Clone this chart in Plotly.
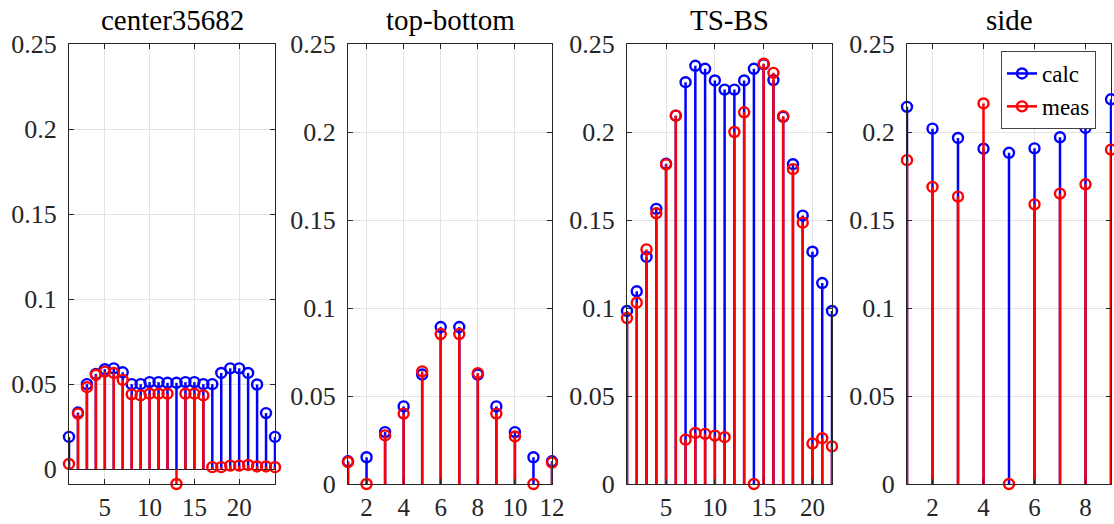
import plotly.graph_objects as go

# ---- data -------------------------------------------------------------
titles = ["center35682", "top-bottom", "TS-BS", "side"]

center_calc = [0.019, 0.0333, 0.050, 0.056, 0.0588, 0.0593, 0.057, 0.050, 0.050, 0.0512,
               0.0512, 0.0508, 0.0508, 0.0512, 0.0512, 0.050, 0.050, 0.0566, 0.0593, 0.0593,
               0.0566, 0.0498, 0.033, 0.019]
center_meas = [0.0031, 0.0327, 0.0482, 0.0555, 0.0574, 0.0566, 0.0525, 0.044, 0.0434, 0.0444,
               0.0444, 0.0444, -0.0087, 0.0444, 0.0444, 0.0434, 0.0012, 0.0012, 0.0021, 0.0021,
               0.0025, 0.0016, 0.0016, 0.0012]

tb_calc = [0.0129, 0.0152, 0.0295, 0.0441, 0.0622, 0.0892, 0.0892, 0.0622, 0.0441, 0.0295,
           0.0152, 0.0129]
tb_meas = [0.0125, 0.0, 0.0276, 0.040, 0.064, 0.0852, 0.0852, 0.063, 0.040, 0.027,
           0.0, 0.0122]

tsbs_calc = [0.0983, 0.1095, 0.129, 0.1563, 0.182, 0.2093, 0.2283, 0.2376, 0.2359, 0.2293,
             0.2241, 0.2241, 0.2293, 0.2359, 0.2384, 0.2295, 0.2086, 0.1817, 0.1525, 0.132,
             0.1142, 0.0983]
tsbs_meas = [0.0943, 0.103, 0.1333, 0.1538, 0.1816, 0.2093, 0.0252, 0.029, 0.0285, 0.0275,
             0.0266, 0.200, 0.2112, 0.0, 0.2388, 0.2336, 0.209, 0.1789, 0.1485, 0.023,
             0.026, 0.0214]

side_calc = [0.2143, 0.2019, 0.1966, 0.1905, 0.1882, 0.1907, 0.197, 0.2023, 0.2186]
side_meas = [0.184, 0.1688, 0.1633, 0.2162, 0.0, 0.1589, 0.165, 0.1703, 0.190]

calc_sets = [center_calc, tb_calc, tsbs_calc, side_calc]
meas_sets = [center_meas, tb_meas, tsbs_meas, side_meas]

x_ticks = [[5, 10, 15, 20], [2, 4, 6, 8, 10, 12], [5, 10, 15, 20], [2, 4, 6, 8]]
y_ticks = [0, 0.05, 0.1, 0.15, 0.2, 0.25]
y_tick_text = ["0", "0.05", "0.1", "0.15", "0.2", "0.25"]

series_names = ["calc", "meas"]
series_colors = ["#0000FF", "#FF0000"]

# ---- layout geometry (pixels) -------------------------------------------
W, H = 1114, 524
panel_px = [(69, 275), (348, 552), (627, 832), (907, 1111)]
plot_top, plot_bottom = 44, 484
ydom = [(H - plot_bottom) / H, (H - plot_top) / H]

FONT = "Liberation Serif"
TXT = "#262626"
GRID = "#e3e3e3"
MARKER = dict(symbol="circle-open", size=10)


def stem_xy(vals):
    xs, ys = [], []
    for i, v in enumerate(vals, start=1):
        xs += [i, i, None]
        ys += [0, v, None]
    return xs, ys


fig = go.Figure()
layout = {}
annotations = []

for p in range(4):
    sfx = "" if p == 0 else str(p + 1)
    xref, yref = "x" + sfx, "y" + sfx
    n = len(calc_sets[p])
    for vals, name, col in zip([calc_sets[p], meas_sets[p]], series_names, series_colors):
        sx, sy = stem_xy(vals)
        fig.add_trace(go.Scatter(x=sx, y=sy, mode="lines", xaxis=xref, yaxis=yref,
                                 line=dict(color=col, width=2.5), showlegend=False,
                                 cliponaxis=False, hoverinfo="skip"))
        fig.add_trace(go.Scatter(x=list(range(1, n + 1)), y=vals, mode="markers",
                                 xaxis=xref, yaxis=yref, showlegend=False, cliponaxis=False,
                                 marker=dict(**MARKER, color=col,
                                             line=dict(width=2.4, color=col)),
                                 name=name))

    ymin = min(0, min(meas_sets[p]), min(calc_sets[p]))
    x0, x1 = panel_px[p]
    layout["xaxis" + sfx] = dict(
        domain=[x0 / W, x1 / W], anchor=yref, range=[1, n], automargin=False,
        tickvals=x_ticks[p], ticks="inside", ticklen=5, tickcolor=TXT,
        showline=True, linecolor=TXT, linewidth=1, mirror="ticks",
        showgrid=True, gridcolor=GRID, gridwidth=1, zeroline=False,
        tickfont=dict(family=FONT, size=25, color=TXT), ticklabelstandoff=1,
    )
    layout["yaxis" + sfx] = dict(
        domain=ydom, anchor=xref, range=[ymin, 0.25], automargin=False,
        tickvals=y_ticks, ticktext=y_tick_text, ticks="inside", ticklen=5, tickcolor=TXT,
        showline=True, linecolor=TXT, linewidth=1, mirror="ticks",
        showgrid=True, gridcolor=GRID, gridwidth=1,
        zeroline=True, zerolinecolor=TXT, zerolinewidth=1,
        tickfont=dict(family=FONT, size=26, color=TXT), ticklabelstandoff=6,
    )
    annotations.append(dict(text=titles[p], x=(x0 + x1) / 2 / W, y=1 - 20 / H,
                            xref="paper", yref="paper", showarrow=False,
                            xanchor="center", yanchor="middle",
                            font=dict(family=FONT, size=29, color="#000000")))

# legend entries drawn in the "side" panel
for name, col in zip(series_names, series_colors):
    fig.add_trace(go.Scatter(x=[None], y=[None], mode="lines+markers", name=name,
                             xaxis="x4", yaxis="y4",
                             line=dict(color=col, width=2.5),
                             marker=dict(**MARKER, color=col,
                                         line=dict(width=2.4, color=col))))

fig.update_layout(
    width=W, height=H,
    margin=dict(l=0, r=0, t=0, b=0, autoexpand=False),
    paper_bgcolor="white", plot_bgcolor="white",
    font=dict(family=FONT, size=26, color=TXT),
    showlegend=True,
    legend=dict(x=1096 / W, y=1 - 51 / H, xanchor="right", yanchor="top",
                bgcolor="white", bordercolor="#444444", borderwidth=1,
                font=dict(family=FONT, size=23, color="#000000"),
                itemwidth=30, tracegroupgap=0),
    annotations=annotations,
    **layout,
)

fig.write_html("out.html")
